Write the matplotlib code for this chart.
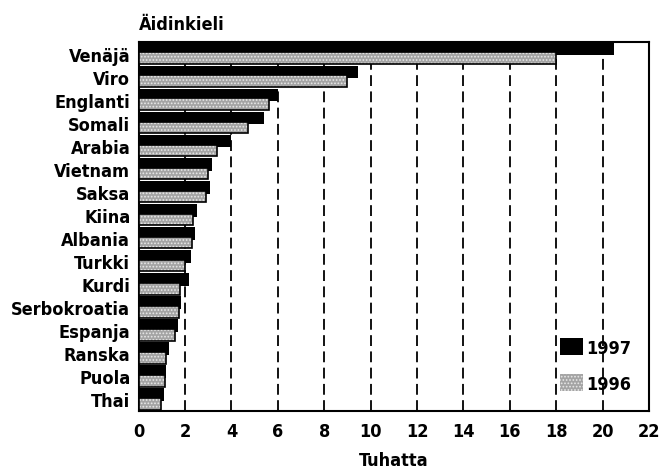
import matplotlib.pyplot as plt
from matplotlib.patches import Patch
import numpy as np

kielet = ['Venäjä', 'Viro', 'Englanti', 'Somali', 'Arabia', 'Vietnam', 'Saksa',
          'Kiina', 'Albania', 'Turkki', 'Kurdi', 'Serbokroatia', 'Espanja',
          'Ranska', 'Puola', 'Thai']
v1997 = [20.5, 9.45, 6.0, 5.4, 4.0, 3.17, 3.08, 2.5, 2.43, 2.25, 2.18, 1.83, 1.69, 1.32, 1.18, 1.1]
v1996 = [18.0, 9.0, 5.6, 4.7, 3.4, 3.0, 2.9, 2.33, 2.3, 2.0, 1.78, 1.75, 1.57, 1.17, 1.14, 0.97]
xticks = list(range(0, 23, 2))

plt.rcParams['font.family'] = ['DejaVu Sans']
plt.rcParams['font.stretch'] = 'condensed'
plt.rcParams['font.weight'] = 'bold'
plt.rcParams['hatch.linewidth'] = 0.8

fig = plt.figure(figsize=(6.59, 4.77), dpi=100)
ax = fig.add_axes([0.2103, 0.1363, 0.7745, 0.7736])

y = np.arange(len(kielet))

# 1997 black bars behind, 1996 dotted bars on top
ax.barh(y - 0.2, v1997, height=0.55, color='black', zorder=2)
ax.barh(y + 0.2, v1996, height=0.5, color='#a4a4a4', edgecolor='#e8e8e8',
        hatch='.....', linewidth=0, zorder=3)
ax.barh(y + 0.2, v1996, height=0.5, fill=False, edgecolor='black',
        linewidth=1.2, zorder=4)

ax.set_xlim(0, 22)
ax.set_ylim(len(kielet) - 0.5, -0.5)
ax.set_yticks(y)
ax.set_yticklabels(kielet, fontsize=13, fontweight='bold')
ax.set_xticks(xticks)
ax.set_xticklabels([str(t) for t in xticks], fontsize=13, fontweight='bold')
ax.tick_params(length=0, pad=8)
ax.tick_params(axis='y', pad=6)

for gx in xticks[1:-1]:
    ax.axvline(gx, color='black', linewidth=1.3, linestyle=(0, (6, 3)), zorder=1)

for s in ax.spines.values():
    s.set_linewidth(1.5)

ax.set_xlabel('Tuhatta', fontsize=13, fontweight='bold', labelpad=8)
fig.text(0.2103, 0.947, 'Äidinkieli', fontsize=13, fontweight='bold', va='center', ha='left')

handles = [Patch(facecolor='black', label='1997'),
           Patch(facecolor='#a4a4a4', edgecolor='#e8e8e8', hatch='.....', linewidth=0, label='1996')]
leg = ax.legend(handles=handles, loc='lower right', bbox_to_anchor=(0.997, 0.005),
                frameon=False, fontsize=13, handlelength=1.3, handleheight=1.1,
                handletextpad=0.15, labelspacing=0.95)

fig.savefig('out.png', dpi=100)
